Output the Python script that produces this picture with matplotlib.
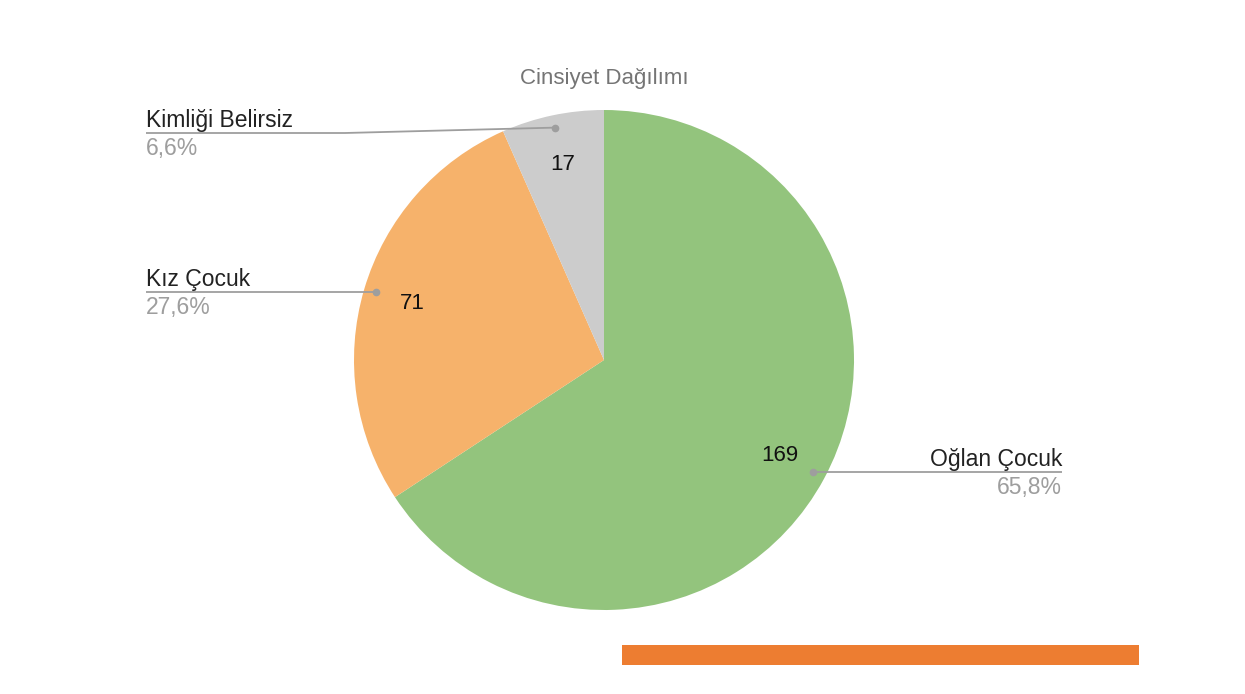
import matplotlib.pyplot as plt
import numpy as np
from matplotlib.patches import Rectangle

plt.rcParams['font.family'] = ['Liberation Sans', 'DejaVu Sans']

title = 'Cinsiyet Dağılımı'
categories = ['Oğlan Çocuk', 'Kız Çocuk', 'Kimliği Belirsiz']
counts = [169, 71, 17]
colors = ['#93c47d', '#f6b26b', '#cccccc']

W, H = 1245, 694
def Y(y):
    return H - y

total = sum(counts)
cx, cy, R = 604, Y(360), 250

fig = plt.figure(figsize=(W / 100, H / 100), dpi=100)
ax = fig.add_axes([0, 0, 1, 1])

wedges, _, autotexts = ax.pie(counts, colors=colors, startangle=90, counterclock=False,
                              center=(cx, cy), radius=R,
                              autopct=lambda p: '%d' % round(p * total / 100),
                              pctdistance=0.8,
                              textprops=dict(fontsize=16, color='#111111'))
ax.set_xlim(0, W)
ax.set_ylim(0, H)
ax.set_aspect('equal')
ax.axis('off')

ax.text(604, Y(78), title, ha='center', va='center', fontsize=16, color='#757575')

# leader lines: underline end x, underline y, text alignment, optional elbow x
layout = {
    'Oğlan Çocuk': dict(x_end=1062, y_line=472, ha='right', elbow=None),
    'Kız Çocuk': dict(x_end=146, y_line=292, ha='left', elbow=None),
    'Kimliği Belirsiz': dict(x_end=146, y_line=133, ha='left', elbow=345),
}
line_col = '#9e9e9e'
for w, name, n in zip(wedges, categories, counts):
    mid = np.deg2rad((w.theta1 + w.theta2) / 2)
    dx, dy = cx + 0.95 * R * np.cos(mid), cy + 0.95 * R * np.sin(mid)
    L = layout[name]
    yl = Y(L['y_line'])
    if L['elbow'] is None:
        dy = yl
        xs, ys = [dx, L['x_end']], [yl, yl]
    else:
        xs, ys = [dx, L['elbow'], L['x_end']], [dy, yl, yl]
    ax.plot(xs, ys, color=line_col, lw=1.3, solid_capstyle='butt')
    ax.plot([dx], [dy], 'o', color=line_col, ms=4.5)
    ax.text(L['x_end'], yl + 6, name, ha=L['ha'], va='baseline', fontsize=16.5, color='#222222')
    pct = ('%.1f' % (100 * n / total)).replace('.', ',') + '%'
    ax.text(L['x_end'], yl - 22, pct, ha=L['ha'], va='baseline', fontsize=16.5, color='#9e9e9e')

ax.add_patch(Rectangle((622, Y(665)), 517, 20, color='#ed7d31', lw=0))

fig.savefig('out.png', dpi=100)
